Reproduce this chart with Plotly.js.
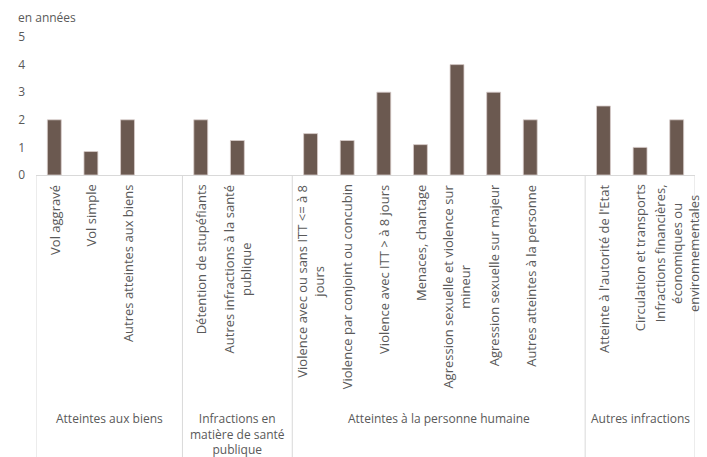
<!DOCTYPE html>
<html>
<head>
<meta charset="utf-8">
<script src="https://cdn.plot.ly/plotly-3.0.1.min.js"></script>
<style>html,body{margin:0;padding:0;background:#fff;}#chart{width:707px;height:457px;}</style>
</head>
<body>
<div id="chart"></div>
<script>
// Category labels (one slot per position; "" = empty spacer slot between groups)
const categories = [
  "Vol aggravé", "Vol simple", "Autres atteintes aux biens", "",
  "Détention de stupéfiants", "Autres infractions à la santé<br>publique", "",
  "Violence avec ou sans ITT &lt;= à 8<br>jours", "Violence par conjoint ou concubin",
  "Violence avec ITT &gt; à 8 jours", "Menaces, chantage",
  "Agression sexuelle et violence sur<br>mineur", "Agression sexuelle sur majeur",
  "Autres atteintes à la personne", "",
  "Atteinte à l'autorité de l'Etat", "Circulation et transports",
  "Infractions financières,<br>économiques ou<br>environnementales"
];
// Values in years (null = spacer)
const values = [2.0, 0.85, 2.0, null, 2.0, 1.25, null, 1.5, 1.25, 3.0, 1.1, 4.0, 3.0, 2.0, null, 2.5, 1.0, 2.0];
// Groups: label, first slot index, last slot index (inclusive, including spacer)
const groupLabels = ["Atteintes aux biens", "Infractions en<br>matière de santé<br>publique", "Atteintes à la personne humaine", "Autres infractions"];
const groupStart = [0, 4, 7, 15];
const groupEnd = [3, 6, 14, 17];
const yTicks = [0, 1, 2, 3, 4, 5];
const yUnit = "en années";

const xIdx = categories.map((c, i) => i);
const textColor = "#595959";
const fontFamily = "'Open Sans', sans-serif";
const fs = 12;

const annotations = [];
categories.forEach((c, i) => {
  if (!c) return;
  annotations.push({
    x: i, xref: "x", y: -0.055, yref: "paper",
    text: c, textangle: -90, showarrow: false,
    xanchor: "center", yanchor: "top", align: "center",
    font: {family: fontFamily, size: 13, color: textColor}
  });
});
groupLabels.forEach((g, k) => {
  annotations.push({
    x: (groupStart[k] + groupEnd[k]) / 2, xref: "x", y: -1.69, yref: "paper",
    text: g, showarrow: false, xanchor: "center", yanchor: "top", align: "center",
    font: {family: fontFamily, size: fs, color: textColor}
  });
});
annotations.push({
  x: -0.03, xref: "paper", y: 1.14, yref: "paper", text: yUnit, showarrow: false,
  xanchor: "left", yanchor: "middle", font: {family: fontFamily, size: fs, color: textColor}
});

const shapes = [];
const bounds = [groupStart[0] - 0.5].concat(groupEnd.map(e => e + 0.5));
bounds.forEach(b => {
  shapes.push({type: "line", xref: "x", yref: "paper", x0: b, x1: b, y0: 0, y1: -2.1,
    line: {color: "#d9d9d9", width: 1}});
});

Plotly.newPlot("chart", [{
  type: "bar", x: xIdx, y: values,
  width: 0.38,
  marker: {color: "#6b5950", line: {color: "#d8cdca", width: 0.8}},
  hoverinfo: "none"
}], {
  width: 707, height: 457,
  margin: {l: 36, r: 12, t: 37, b: 282},
  paper_bgcolor: "#fff", plot_bgcolor: "#fff",
  showlegend: false,
  xaxis: {range: [-0.5, 17.5], showticklabels: false, showgrid: false, zeroline: false,
    showline: true, linecolor: "#d9d9d9", linewidth: 1, ticks: "", fixedrange: true},
  yaxis: {range: [0, 5], tickvals: yTicks, showgrid: false, zeroline: false, showline: false,
    ticks: "", ticklabelstandoff: 10,
    tickfont: {family: fontFamily, size: fs, color: textColor}},
  annotations: annotations,
  shapes: shapes
}, {staticPlot: true});
</script>
</body>
</html>
